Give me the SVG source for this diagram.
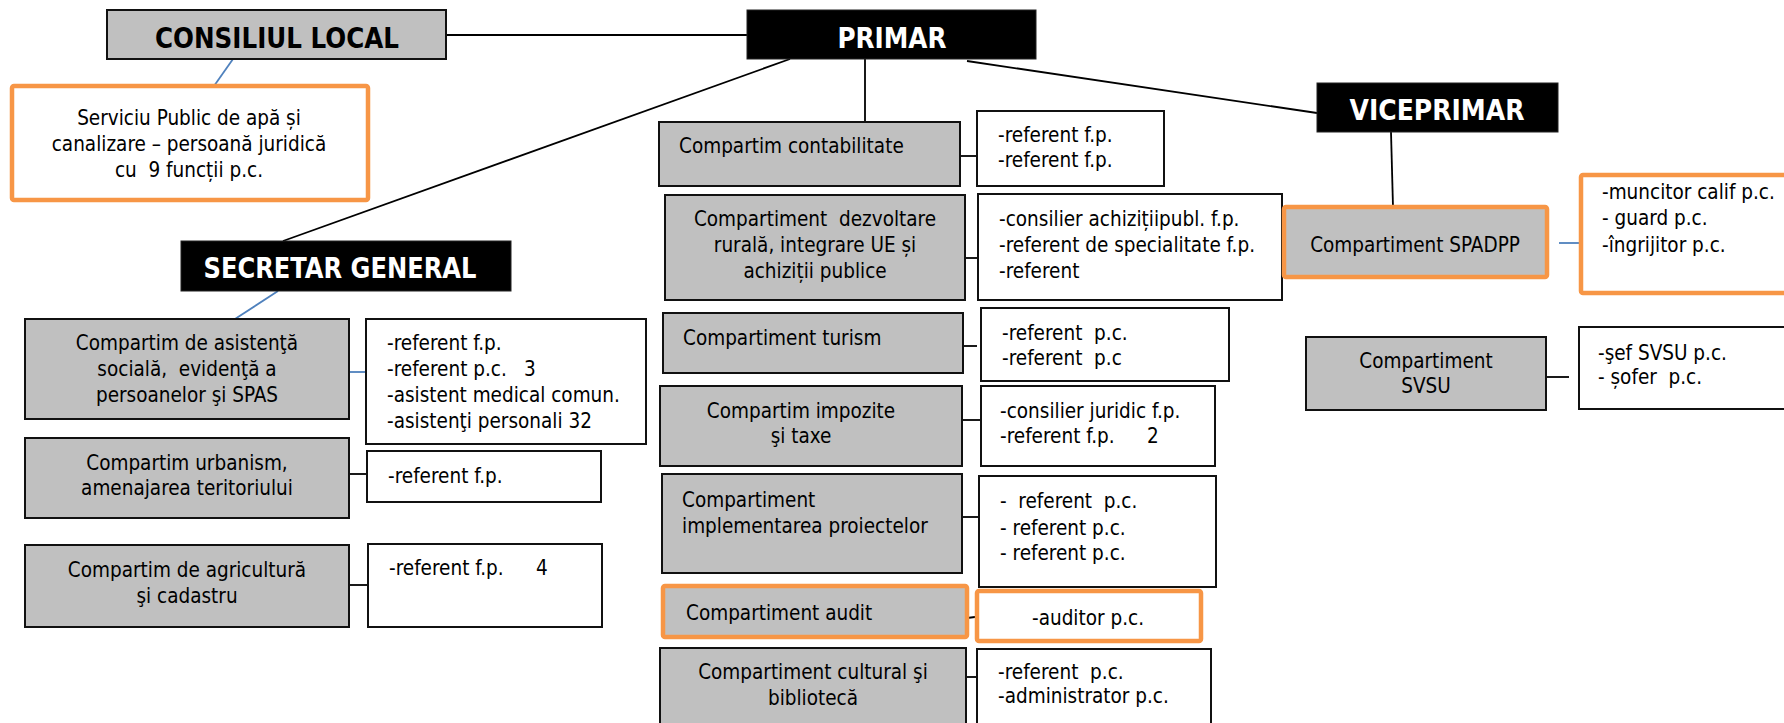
<svg xmlns="http://www.w3.org/2000/svg" width="1784" height="723" viewBox="0 0 1784 723">
<style>
text{font-family:'DejaVu Sans Condensed','DejaVu Sans',sans-serif;font-stretch:condensed;font-size:20.5px;fill:#000;white-space:pre}
.h{font-weight:bold;font-size:27.5px}
.w{fill:#fff}
.c{text-anchor:middle}
.g{fill:#c0c0c0;stroke:#111;stroke-width:2}
.r{fill:#fff;stroke:#111;stroke-width:2}
.k{fill:#000;stroke:#222;stroke-width:1}
.o{stroke:#f79646;stroke-width:4.5}
.ln{stroke:#000;stroke-width:1.8;fill:none}
.bl{stroke:#4f81bd;stroke-width:1.8;fill:none}
</style>
<rect width="1784" height="723" fill="#fff"/>
<g id="connectors">
<line class="ln" x1="446" y1="35" x2="747" y2="35"/>
<line class="bl" x1="233" y1="59" x2="214" y2="86"/>
<line class="ln" x1="790" y1="59" x2="283" y2="241"/>
<line class="ln" x1="865" y1="59" x2="865" y2="122"/>
<line class="ln" x1="967" y1="61" x2="1317" y2="113"/>
<line class="ln" x1="1391" y1="132" x2="1393" y2="207"/>
<line class="bl" x1="278" y1="291" x2="235" y2="319"/>
<line class="bl" x1="349" y1="372" x2="366" y2="372"/>
<line class="ln" x1="349" y1="474" x2="367" y2="474"/>
<line class="ln" x1="348" y1="585" x2="368" y2="585"/>
<line class="ln" x1="960" y1="156" x2="977" y2="156"/>
<line class="ln" x1="965" y1="258" x2="978" y2="258"/>
<line class="ln" x1="963" y1="346" x2="977" y2="346"/>
<line class="ln" x1="962" y1="420" x2="981" y2="420"/>
<line class="ln" x1="959" y1="517" x2="979" y2="517"/>
<line class="ln" x1="967" y1="618" x2="983" y2="616"/>
<line class="ln" x1="961" y1="677" x2="980" y2="677"/>
<line class="bl" x1="1559" y1="243" x2="1581" y2="243"/>
<line class="ln" x1="1546" y1="377" x2="1569" y2="377"/>
</g>
<g id="consiliul">
<rect class="g" x="107" y="10" width="339" height="49"/>
<text class="h c" x="277" y="48" textLength="244" lengthAdjust="spacingAndGlyphs">CONSILIUL LOCAL</text>
</g>
<g id="primar">
<rect class="k" x="747" y="10" width="289" height="49"/>
<text class="h c w" x="892" y="48" textLength="109" lengthAdjust="spacingAndGlyphs">PRIMAR</text>
</g>
<g id="viceprimar">
<rect class="k" x="1317" y="83" width="241" height="49"/>
<text class="h c w" x="1437" y="120" textLength="175" lengthAdjust="spacingAndGlyphs">VICEPRIMAR</text>
</g>
<g id="secretar">
<rect class="k" x="181" y="241" width="330" height="50"/>
<text class="h c w" x="340" y="278" textLength="273" lengthAdjust="spacingAndGlyphs">SECRETAR GENERAL</text>
</g>
<g id="serviciu">
<rect class="r o" x="12" y="86" width="356" height="114" rx="2"/>
<text class="c" x="189" y="125">Serviciu Public de apă și</text>
<text class="c" x="189" y="151">canalizare – persoană juridică</text>
<text class="c" x="189" y="177">cu  9 funcții p.c.</text>
</g>
<g id="asistenta">
<rect class="g" x="25" y="319" width="324" height="100"/>
<text class="c" x="187" y="350">Compartim de asistenţă</text>
<text class="c" x="187" y="376">socială,  evidenţă a</text>
<text class="c" x="187" y="402">persoanelor şi SPAS</text>
</g>
<g id="asistenta-ref">
<rect class="r" x="366" y="319" width="280" height="125"/>
<text x="387" y="350">-referent f.p.</text>
<text x="387" y="376">-referent p.c.<tspan x="524">3</tspan></text>
<text x="387" y="402">-asistent medical comun.</text>
<text x="387" y="428">-asistenţi personali 32</text>
</g>
<g id="urbanism">
<rect class="g" x="25" y="438" width="324" height="80"/>
<text class="c" x="187" y="470">Compartim urbanism,</text>
<text class="c" x="187" y="495">amenajarea teritoriului</text>
</g>
<g id="urbanism-ref">
<rect class="r" x="367" y="451" width="234" height="51"/>
<text x="388" y="483">-referent f.p.</text>
</g>
<g id="agricultura">
<rect class="g" x="25" y="545" width="324" height="82"/>
<text class="c" x="187" y="577">Compartim de agricultură</text>
<text class="c" x="187" y="603">şi cadastru</text>
</g>
<g id="agricultura-ref">
<rect class="r" x="368" y="544" width="234" height="83"/>
<text x="389" y="575">-referent f.p.<tspan x="536">4</tspan></text>
</g>
<g id="contabilitate">
<rect class="g" x="659" y="122" width="301" height="64"/>
<text x="679" y="153">Compartim contabilitate</text>
</g>
<g id="contabilitate-ref">
<rect class="r" x="977" y="111" width="187" height="75"/>
<text x="998" y="142">-referent f.p.</text>
<text x="998" y="167">-referent f.p.</text>
</g>
<g id="dezvoltare">
<rect class="g" x="665" y="195" width="300" height="105"/>
<text class="c" x="815" y="226">Compartiment  dezvoltare</text>
<text class="c" x="815" y="252">rurală, integrare UE și</text>
<text class="c" x="815" y="278">achiziții publice</text>
</g>
<g id="dezvoltare-ref">
<rect class="r" x="978" y="194" width="304" height="106"/>
<text x="999" y="226">-consilier achizițiipubl. f.p.</text>
<text x="999" y="252">-referent de specialitate f.p.</text>
<text x="999" y="278">-referent</text>
</g>
<g id="turism">
<rect class="g" x="663" y="313" width="300" height="60"/>
<text x="683" y="345">Compartiment turism</text>
</g>
<g id="turism-ref">
<rect class="r" x="981" y="308" width="248" height="73"/>
<text x="1002" y="340">-referent  p.c.</text>
<text x="1002" y="365">-referent  p.c</text>
</g>
<g id="impozite">
<rect class="g" x="660" y="386" width="302" height="80"/>
<text class="c" x="801" y="418">Compartim impozite</text>
<text class="c" x="801" y="443">şi taxe</text>
</g>
<g id="impozite-ref">
<rect class="r" x="981" y="386" width="234" height="80"/>
<text x="1000" y="418">-consilier juridic f.p.</text>
<text x="1000" y="443">-referent f.p.<tspan x="1147">2</tspan></text>
</g>
<g id="implementare">
<rect class="g" x="662" y="474" width="300" height="99"/>
<text x="682" y="507">Compartiment</text>
<text x="682" y="533">implementarea proiectelor</text>
</g>
<g id="implementare-ref">
<rect class="r" x="979" y="476" width="237" height="111"/>
<text x="1000" y="508">-  referent  p.c.</text>
<text x="1000" y="535">- referent p.c.</text>
<text x="1000" y="560">- referent p.c.</text>
</g>
<g id="audit">
<rect class="g o" x="663" y="586" width="304" height="51" rx="2"/>
<text x="686" y="620">Compartiment audit</text>
</g>
<g id="audit-ref">
<rect class="r o" x="977" y="591" width="224" height="50" rx="2"/>
<text class="c" x="1088" y="625">-auditor p.c.</text>
</g>
<g id="cultural">
<rect class="g" x="660" y="648" width="306" height="92"/>
<text class="c" x="813" y="679">Compartiment cultural şi</text>
<text class="c" x="813" y="705">bibliotecă</text>
</g>
<g id="cultural-ref">
<rect class="r" x="977" y="649" width="234" height="91"/>
<text x="998" y="679">-referent  p.c.</text>
<text x="998" y="703">-administrator p.c.</text>
</g>
<g id="spadpp">
<rect class="g o" x="1284" y="207" width="263" height="70" rx="2"/>
<text class="c" x="1415" y="252">Compartiment SPADPP</text>
</g>
<g id="spadpp-ref">
<rect class="r o" x="1581" y="175" width="220" height="118" rx="2"/>
<text x="1602" y="199">-muncitor calif p.c.</text>
<text x="1602" y="225">- guard p.c.</text>
<text x="1602" y="252">-îngrijitor p.c.</text>
</g>
<g id="svsu">
<rect class="g" x="1306" y="337" width="240" height="73"/>
<text class="c" x="1426" y="368">Compartiment</text>
<text class="c" x="1426" y="393">SVSU</text>
</g>
<g id="svsu-ref">
<rect class="r" x="1579" y="327" width="220" height="82"/>
<text x="1598" y="360">-şef SVSU p.c.</text>
<text x="1598" y="384">- șofer  p.c.</text>
</g>
</svg>
